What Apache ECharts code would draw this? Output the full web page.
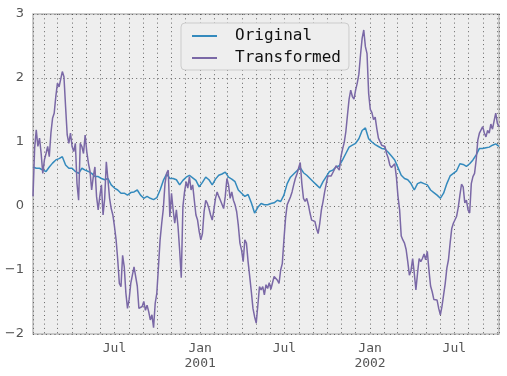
<!DOCTYPE html>
<html>
<head>
<meta charset="utf-8">
<script src="https://cdn.jsdelivr.net/npm/echarts@6/dist/echarts.min.js"></script>
<style>
  html, body { margin: 0; padding: 0; background: #fff; }
  #chart { width: 507px; height: 376px; }
</style>
</head>
<body>
<div id="chart"></div>
<script>
// first sample on 2000-01-08; Original read weekly, Transformed twice a week
var startDate = [2000, 0, 8];
var origStepDays = 7;
var transStepDays = 3.5;

var original = [
  0.61, 0.59, 0.59, 0.56, 0.54, 0.61, 0.67, 0.72, 0.74, 0.77,
  0.64, 0.59, 0.59, 0.54, 0.51, 0.59, 0.56, 0.54, 0.51, 0.46,
  0.46, 0.43, 0.41, 0.43, 0.33, 0.28, 0.25, 0.2, 0.2, 0.17,
  0.21, 0.22, 0.25, 0.17, 0.12, 0.15, 0.12, 0.1, 0.13, 0.25,
  0.4, 0.5, 0.43, 0.43, 0.41, 0.33, 0.4, 0.45, 0.48, 0.44,
  0.4, 0.3, 0.37, 0.45, 0.41, 0.33, 0.42, 0.48, 0.5, 0.53,
  0.45, 0.42, 0.38, 0.25, 0.2, 0.15, 0.18, 0.05, -0.11, -0.02,
  0.04, 0.02, 0.02, 0.04, 0.05, 0.09, 0.07, 0.17, 0.35, 0.45,
  0.5, 0.55, 0.6, 0.52, 0.48, 0.43, 0.38, 0.33, 0.28, 0.38,
  0.46, 0.54, 0.56, 0.61, 0.63, 0.72, 0.82, 0.92, 0.95, 0.98,
  1.05, 1.18, 1.22, 1.05, 1.0, 0.96, 0.93, 0.9, 0.89, 0.84,
  0.78, 0.72, 0.6, 0.48, 0.43, 0.41, 0.35, 0.25, 0.35, 0.37,
  0.35, 0.33, 0.25, 0.21, 0.17, 0.12, 0.2, 0.35, 0.47, 0.51,
  0.55, 0.66, 0.65, 0.62, 0.66, 0.72, 0.8, 0.9, 0.9, 0.91,
  0.92, 0.95, 0.97, 0.93
];

var transformed = [
  0.15, 0.9, 1.19, 0.93, 1.06, 0.82, 0.51, 0.72, 0.82, 0.93,
  0.77, 1.14, 1.37, 1.45, 1.71, 1.92, 1.86, 1.89, 2.1, 2.02,
  1.55, 1.11, 0.98, 1.14, 0.93, 0.85, 0.98, 0.35, 0.09, 0.98,
  0.93, 0.82, 1.11, 0.85, 0.67, 0.54, 0.25, 0.46, 0.61, 0.15,
  -0.06, 0.15, 0.33, -0.14, 0.12, 0.69, 0.41, 0.12, -0.04, -0.14,
  -0.32, -0.53, -0.84, -1.21, -1.26, -0.77, -0.95, -1.36, -1.6, -1.46,
  -1.21, -1.08, -0.95, -0.95, -1.25, -1.6, -1.57, -1.57, -1.49, -1.63,
  -1.55, -1.65, -1.78, -1.7, -1.9, -1.52, -1.36, -0.95, -0.53, -0.27,
  -0.04, 0.35, 0.51, 0.56, -0.17, 0.2, -0.06, -0.27, -0.06, -0.32,
  -0.69, -1.12, -0.01, 0.22, 0.38, 0.28, 0.46, 0.25, 0.33, 0.09,
  -0.14, -0.22, -0.4, -0.53, -0.43, -0.09, 0.09, 0.04, -0.04, -0.14,
  -0.22, -0.06, 0.12, 0.22, 0.15, 0.09, 0.09, -0.04, 0.15, 0.43,
  0.33, 0.12, 0.22, 0.09, 0.02, -0.09, -0.3, -0.58, -0.69, -0.87,
  -0.53, -0.58, -0.87, -1.1, -1.34, -1.6, -1.73, -1.83, -1.55, -1.26,
  -1.31, -1.26, -1.39, -1.23, -1.29, -1.2, -1.3, -1.2, -1.1, -1.1,
  -1.16, -1.21, -1.0, -0.9, -0.53, -0.19, 0.02, 0.08, 0.14, 0.22,
  0.33, 0.43, 0.5, 0.59, 0.68, 0.35, 0.12, 0.07, 0.12, 0.02,
  -0.11, -0.22, -0.22, -0.24, -0.35, -0.43, -0.27, -0.06, 0.07, 0.22,
  0.35, 0.47, 0.49, 0.47, 0.52, 0.57, 0.63, 0.66, 0.56, 0.77,
  0.89, 0.99, 1.16, 1.42, 1.67, 1.81, 1.71, 1.67, 1.81, 1.92,
  2.06, 2.36, 2.62, 2.75, 2.49, 2.38, 1.76, 1.51, 1.46, 1.35,
  1.39, 1.21, 1.06, 1.06, 0.95, 0.97, 0.93, 0.82, 0.75, 0.64,
  0.6, 0.58, 0.66, 0.46, 0.15, -0.06, -0.47, -0.53, -0.58, -0.68,
  -0.87, -1.08, -1.01, -0.82, -1.05, -1.31, -1.05, -0.82, -0.87, -0.82,
  -0.75, -0.84, -0.71, -1.0, -1.25, -1.34, -1.46, -1.49, -1.47, -1.6,
  -1.7, -1.57, -1.57, -1.21, -0.97, -0.84, -0.58, -0.35, -0.27, -0.24,
  -0.16, -0.02, 0.17, 0.34, 0.3, 0.05, 0.09, -0.06, -0.11, 0.35,
  0.46, 0.51, 0.72, 1.03, 1.14, 1.19, 1.24, 1.14, 1.08, 1.18,
  1.14, 1.28, 1.2, 1.33, 1.45, 1.29, 1.24
];

var seriesNames = ['Original', 'Transformed'];
var colors = ['#348ABD', '#7A68A6'];
var monthNames = { 0: 'Jan', 6: 'Jul' };

var DAY = 24 * 3600 * 1000;
var t0 = new Date(startDate[0], startDate[1], startDate[2]).getTime();

function pairs(vals, step) {
  return vals.map(function (v, k) { return [t0 + k * step * DAY, v]; });
}

var origData = pairs(original, origStepDays);
var transData = pairs(transformed, transStepDays);

var gridStyle = { color: '#444', width: 1, type: [1, 3.3], opacity: 0.8 };

var myChart = echarts.init(document.getElementById('chart'));
var option = {
  animation: false,
  grid: {
    left: 33, right: 8, top: 14, bottom: 42,
    show: true,
    backgroundColor: '#eeeeee',
    borderColor: '#bcbcbc',
    borderWidth: 1.5
  },
  legend: {
    left: 181, top: 23,
    orient: 'vertical',
    data: seriesNames,
    backgroundColor: '#eeeeee',
    borderColor: '#cccccc',
    borderWidth: 1,
    borderRadius: 4,
    padding: [5, 8, 4, 11],
    itemGap: 6,
    itemWidth: 25,
    itemHeight: 2,
    icon: 'rect',
    textStyle: {
      fontFamily: 'DejaVu Sans Mono',
      fontSize: 16,
      color: '#111',
      padding: [0, 0, 0, 13]
    }
  },
  xAxis: {
    type: 'time',
    min: origData[0][0],
    max: origData[origData.length - 1][0],
    minInterval: 28 * DAY,
    maxInterval: 31 * DAY,
    axisLine: { show: false },
    axisTick: { show: false },
    splitLine: { show: true, lineStyle: gridStyle },
    axisLabel: {
      margin: 7,
      fontFamily: 'DejaVu Sans Mono',
      fontSize: 13,
      fontWeight: 'normal',
      lineHeight: 15,
      color: '#555',
      formatter: function (val) {
        var d = new Date(val);
        var m = d.getMonth();
        if (m === 6) return monthNames[6];
        if (m === 0) return monthNames[0] + '\n' + d.getFullYear();
        return '';
      }
    }
  },
  yAxis: {
    type: 'value',
    min: -2, max: 3, interval: 1,
    axisLine: { show: false },
    axisTick: { show: false },
    splitLine: { show: true, lineStyle: gridStyle },
    axisLabel: {
      margin: 9,
      fontFamily: 'DejaVu Sans',
      fontSize: 13,
      color: '#555',
      formatter: function (v) { return String(v).replace('-', '\u2212'); }
    }
  },
  series: [
    {
      name: seriesNames[0], type: 'line', showSymbol: false, symbol: 'none',
      data: origData,
      lineStyle: { color: colors[0], width: 1.5 },
      itemStyle: { color: colors[0] }
    },
    {
      name: seriesNames[1], type: 'line', showSymbol: false, symbol: 'none',
      data: transData,
      lineStyle: { color: colors[1], width: 1.5 },
      itemStyle: { color: colors[1] }
    }
  ]
};
myChart.setOption(option);
</script>
</body>
</html>
